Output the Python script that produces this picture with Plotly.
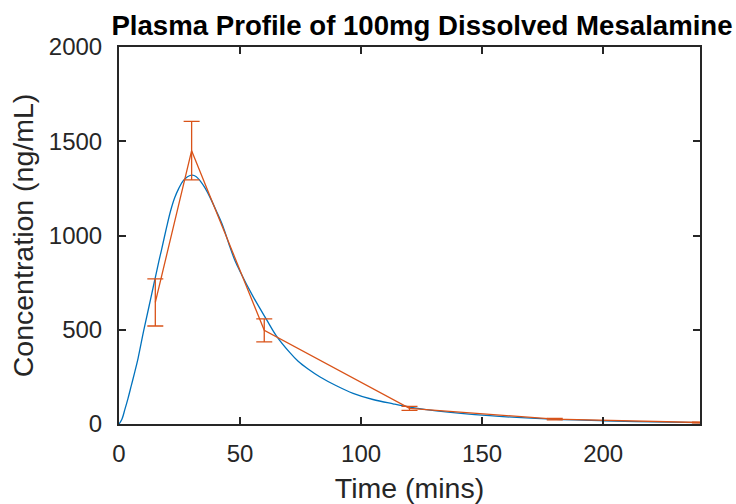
import plotly.graph_objects as go

# Measured data (mean ± error)
time_pts = [15, 30, 60, 120, 180, 240]
conc_mean = [645, 1450, 497, 83, 26, 8]
conc_err = [125, 155, 61, 11, 4, 2]

# Fitted curve
fit_t = [0, 1.2, 2.4, 3.7, 5.1, 6.5, 7.9, 10.2, 12.5, 14.7, 16.5, 17.5, 19.6, 21.3, 23.0,
         24.7, 26.4, 28.3, 30.3, 31.8, 33.3, 35.4, 37.5, 40.2, 43.0, 45.4, 47.8, 49.9,
         55.4, 60.9, 65.0, 70.5, 74.0, 78.1, 82.9, 89.8, 96.7, 104.9, 113.2, 120.1, 131.1,
         153.1, 176.5, 200, 220, 240]
fit_c = [0, 25, 76, 135, 205, 275, 350, 495, 630, 760, 865, 920, 1040, 1130, 1200,
         1250, 1288, 1312, 1320, 1313, 1294, 1255, 1205, 1130, 1047, 955, 870, 812,
         676, 555, 468, 380, 333, 292, 251, 203, 163, 130, 107, 90, 70,
         44, 27, 17, 11, 7]

x_ticks = [0, 50, 100, 150, 200]
y_ticks = [0, 500, 1000, 1500, 2000]

AX = "#262626"
FONT = "Liberation Sans, Arial, Helvetica, sans-serif"

fig = go.Figure()
fig.add_trace(go.Scatter(
    x=fit_t, y=fit_c, mode="lines", line=dict(color="#0072BD", width=1.3, shape="spline"),
    showlegend=False, hoverinfo="skip"))
fig.add_trace(go.Scatter(
    x=time_pts, y=conc_mean, mode="lines", line=dict(color="#D95319", width=1.3),
    error_y=dict(type="data", array=conc_err, visible=True, color="#D95319",
                 thickness=1.3, width=8),
    cliponaxis=False, showlegend=False))

fig.update_layout(
    width=736, height=504,
    margin=dict(l=119, r=36, t=47, b=80, autoexpand=False),
    paper_bgcolor="white", plot_bgcolor="white",
    font=dict(family=FONT, color=AX, size=24),
    title=dict(text="<b>Plasma Profile of 100mg Dissolved Mesalamine</b>",
               font=dict(family=FONT, size=27.6, color="black"),
               x=422 / 736, xanchor="center", xref="container",
               y=1 - 25 / 504, yanchor="middle", yref="container"),
    xaxis=dict(range=[0, 240], tickvals=x_ticks, ticks="inside", ticklen=7, tickwidth=1.5,
               tickcolor=AX, showline=True, linecolor=AX, linewidth=2, mirror="ticks",
               showgrid=False, zeroline=False, ticklabelstandoff=7, automargin=False,
               title=dict(text="Time (mins)", font=dict(size=28.5, color=AX), standoff=24)),
    yaxis=dict(range=[0, 2000], tickvals=y_ticks, ticks="inside", ticklen=7, tickwidth=1.5,
               tickcolor=AX, showline=True, linecolor=AX, linewidth=2, mirror="ticks",
               showgrid=False, zeroline=False, ticklabelstandoff=10, automargin=False,
               title=dict(text="Concentration (ng/mL)", font=dict(size=28.5, color=AX), standoff=7)),
)

fig.write_html("out.html")
